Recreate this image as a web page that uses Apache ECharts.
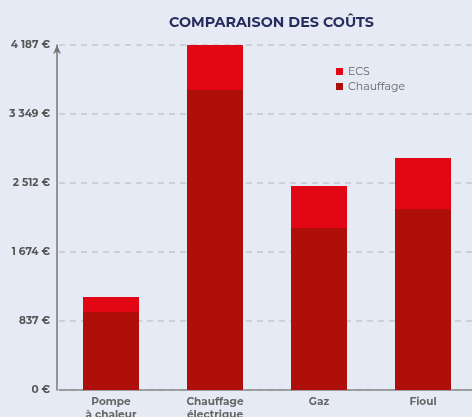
<!DOCTYPE html>
<html>
<head>
<meta charset="utf-8">
<script src="https://cdn.jsdelivr.net/npm/echarts@6/dist/echarts.min.js"></script>
<style>
  html, body { margin: 0; padding: 0; background: #e6eaf5; }
  #chart { width: 472px; height: 417px; }
</style>
</head>
<body>
<div id="chart"></div>
<script>
// données
const categories = ['Pompe\nà chaleur', 'Chauffage\nélectrique', 'Gaz', 'Fioul']
const chauffage = [947, 3641, 1966, 2197]
const ecs = [182, 546, 510, 619]
const yMax = 4187
const yTickLabels = ['0 €', '837 €', '1 674 €', '2 512 €', '3 349 €', '4 187 €']

const chart = echarts.init(document.getElementById('chart'))

const font = 'Montserrat, Inter, "Open Sans", sans-serif'

const option = {
  backgroundColor: '#e6eaf5',
  animation: false,
  title: {
    text: 'COMPARAISON DES COÛTS',
    left: 164,
    top: 11,
    textStyle: {
      fontFamily: font,
      fontSize: 14.3,
      fontWeight: 'bold',
      color: '#262d5c'
    }
  },
  legend: {
    left: 331,
    top: 61,
    orient: 'vertical',
    itemWidth: 7,
    itemHeight: 7,
    itemGap: 4,
    icon: 'rect',
    textStyle: {
      fontFamily: font,
      fontSize: 11,
      color: '#666'
    },
    data: ['ECS', 'Chauffage']
  },
  grid: {
    left: 59,
    top: 45,
    width: 416,
    bottom: 27,
    containLabel: false,
    outerBoundsMode: 'none'
  },
  xAxis: {
    type: 'category',
    data: categories,
    axisLine: { lineStyle: { color: '#888', width: 1.5 } },
    axisTick: { show: false },
    axisLabel: {
      fontFamily: font,
      fontSize: 10.5,
      fontWeight: 'bold',
      color: '#666',
      lineHeight: 13,
      margin: 5
    }
  },
  yAxis: {
    type: 'value',
    min: 0,
    max: yMax,
    interval: yMax / 5,
    offset: 2,
    axisLine: {
      show: true,
      symbol: ['none', 'arrow'],
      symbolSize: [6, 9],
      lineStyle: { color: '#777', width: 1.5 }
    },
    axisTick: { show: false },
    axisLabel: {
      fontFamily: font,
      fontSize: 10.5,
      fontWeight: 'bold',
      color: '#555',
      margin: 7,
      formatter: (v) => yTickLabels[Math.round(v / (yMax / 5))]
    },
    splitLine: {
      lineStyle: { color: '#c3c7d0', type: [6, 5], width: 1.5 }
    }
  },
  series: [
    {
      name: 'Chauffage',
      type: 'bar',
      stack: 'cout',
      data: chauffage,
      barWidth: 56,
      itemStyle: { color: '#ae0f0a' }
    },
    {
      name: 'ECS',
      type: 'bar',
      stack: 'cout',
      data: ecs,
      barWidth: 56,
      itemStyle: { color: '#e30613' }
    }
  ]
}

chart.setOption(option)
</script>
</body>
</html>
